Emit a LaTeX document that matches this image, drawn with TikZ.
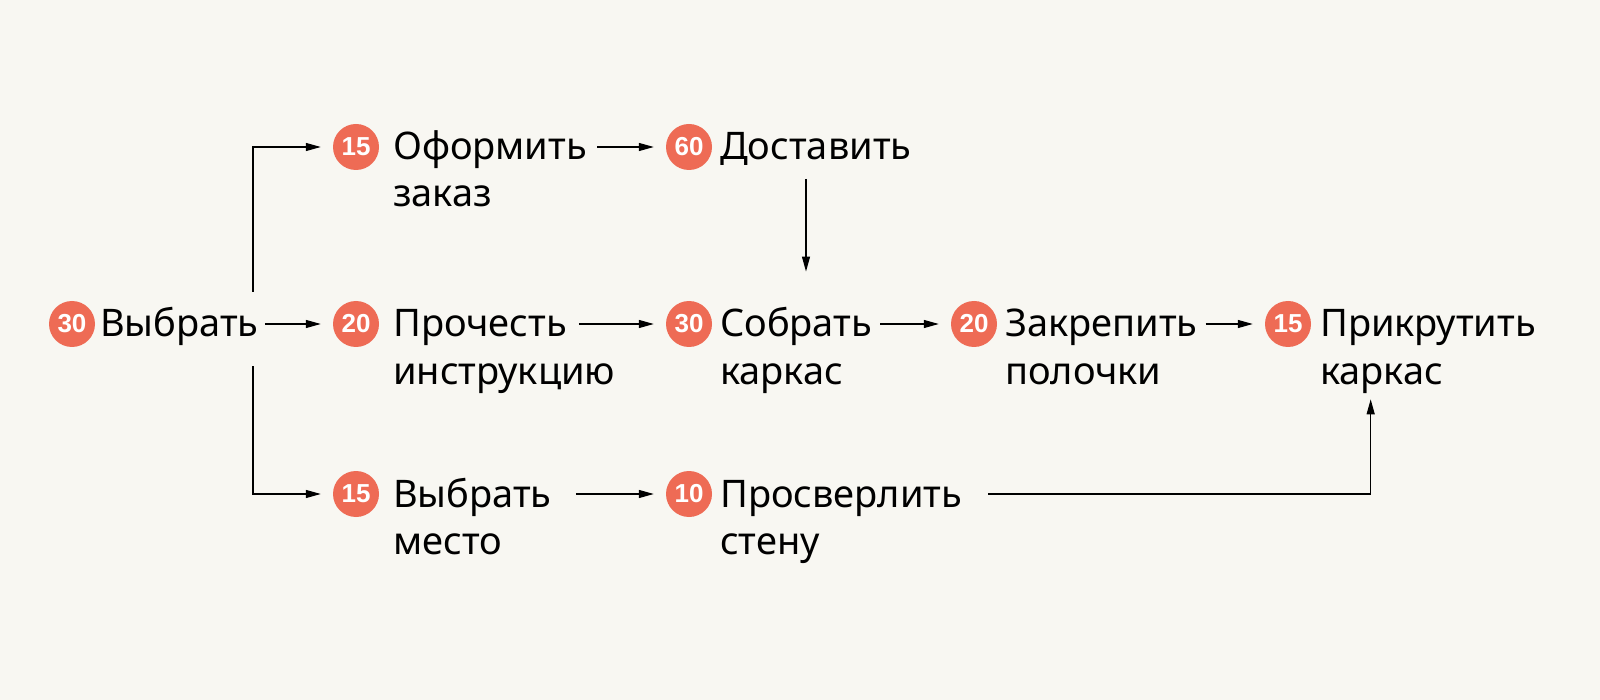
\documentclass[tikz,border=0pt]{standalone}
\usepackage{fontspec}
\setmainfont{Noto Sans}
\newfontfamily\badgefont{Liberation Sans}
\usetikzlibrary{arrows.meta}
\definecolor{paper}{HTML}{F8F7F2}
\definecolor{badgered}{HTML}{EE6B55}

\begin{document}
\begin{tikzpicture}[x=1pt, y=-1pt,
        badge/.style={circle, fill=badgered, text=white, minimum size=46pt, inner sep=0pt, font=\badgefont\fontsize{26}{26}\selectfont\bfseries},
        task/.style={anchor=base west, inner sep=0pt, font=\fontsize{38}{47}\selectfont},
        link/.style={-{Triangle[length=15pt,width=8pt]}, line width=1.2pt, shorten >=12pt}]
        \useasboundingbox[fill=paper] (0,0) rectangle (1600,700);
        % badges
        \node (b30a) [badge] at (72,324) {30};
        \node (b15a) [badge] at (356,147) {15};
        \node (b20a) [badge] at (356,324) {20};
        \node (b15b) [badge] at (356,494) {15};
        \node (b60)  [badge] at (689,147) {60};
        \node (b30b) [badge] at (689,324) {30};
        \node (b10)  [badge] at (689,494) {10};
        \node (b20b) [badge] at (974,324) {20};
        \node (b15c) [badge] at (1288,324) {15};
        % tasks
        \node (pick)    [task] at (100,337) {Выбрать};
        \node (order)   [task] at (393,160) {Оформить};
        \node (order2)  [task] at ([yshift=-47pt]order.base west) {заказ};
        \node (read)    [task] at (393,337) {Прочесть};
        \node (read2)   [task] at ([yshift=-47pt]read.base west) {инструкцию};
        \node (place)   [task] at (393,507) {Выбрать};
        \node (place2)  [task] at ([yshift=-47pt]place.base west) {место};
        \node (deliver) [task] at (720,160) {Доставить};
        \node (build)   [task] at (720,337) {Собрать};
        \node (build2)  [task] at ([yshift=-47pt]build.base west) {каркас};
        \node (drill)   [task] at (720,507) {Просверлить};
        \node (drill2)  [task] at ([yshift=-47pt]drill.base west) {стену};
        \node (fix)     [task] at (1005,337) {Закрепить};
        \node (fix2)    [task] at ([yshift=-47pt]fix.base west) {полочки};
        \node (mount)   [task] at (1320,337) {Прикрутить};
        \node (mount2)  [task] at ([yshift=-47pt]mount.base west) {каркас};
        % fork after the first step
        \coordinate (forkup) at (253,292);
        \coordinate (forkdown) at (253,366);
        \coordinate (drop) at (806,179);
        \draw[link] (forkup) |- (b15a);
        \draw[link] (forkdown) |- (b15b);
        \draw[link, shorten <=6pt] (pick.east |- b30a) -- (b20a);
        \draw[link, shorten <=10pt] (order.east |- b15a) -- (b60);
        \draw[link, shorten <=12pt] (read.east |- b20a) -- (b30b);
        \draw[link, shorten <=24pt] (place.east |- b15b) -- (b10);
        \draw[link, shorten <=8pt] (build.east |- b30b) -- (b20b);
        \draw[link, shorten <=8pt] (fix.east |- b20b) -- (b15c);
        \draw[link, shorten >=36pt] (drop) -- (drop |- build.north);
        \draw[link, shorten <=26pt, shorten >=6pt] (drill.east |- b10) -| ([xshift=-11pt]mount2.south);
    \end{tikzpicture}
\end{document}
